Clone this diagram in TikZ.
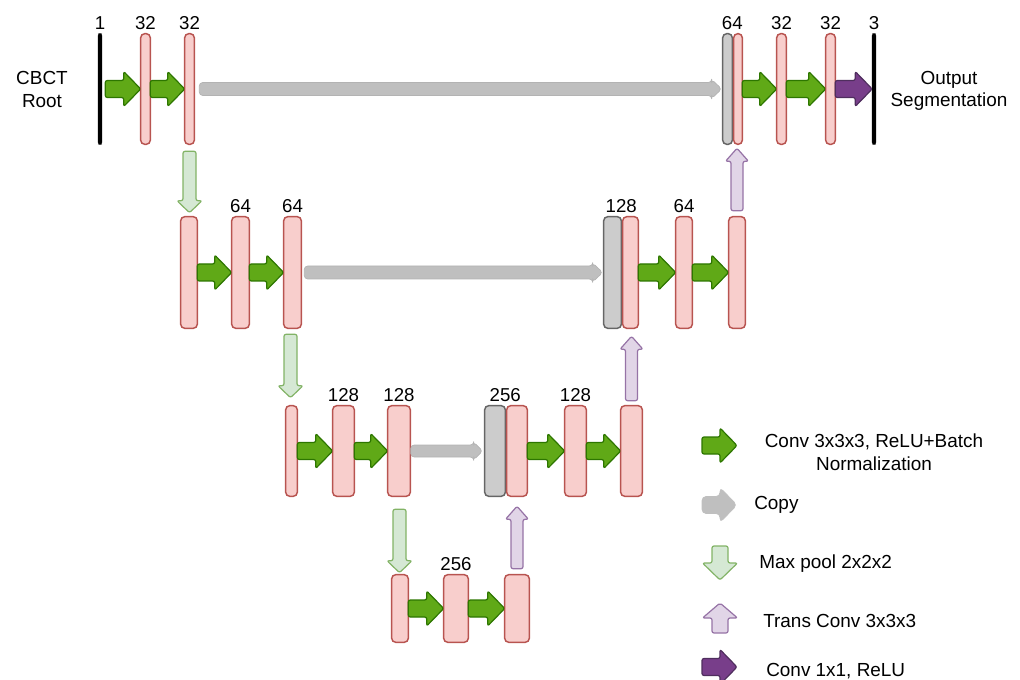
\documentclass[tikz,border=0pt]{standalone}
\usepackage{fontspec}
\setmainfont{Liberation Sans}
\usetikzlibrary{calc}
\definecolor{pinkF}{HTML}{F8CECC}
\definecolor{pinkD}{HTML}{B85450}
\definecolor{grayF}{HTML}{CCCCCC}
\definecolor{grayD}{HTML}{666666}
\definecolor{greenF}{HTML}{60A917}
\definecolor{greenD}{HTML}{2D7600}
\definecolor{poolF}{HTML}{D5E8D4}
\definecolor{poolD}{HTML}{82B366}
\definecolor{upF}{HTML}{E1D5E7}
\definecolor{upD}{HTML}{9673A6}
\definecolor{violF}{HTML}{783E8A}
\definecolor{violD}{HTML}{4F2E5E}
\definecolor{copyF}{HTML}{BFBFBF}
\definecolor{copyD}{HTML}{B3B3B3}
% bar node: name, style, x1, x2, y1, y2 (pixels, y downward)
\newcommand\mkbar[6]{\node[#2, minimum width={(#4-#3-1.4)*0.75pt}, minimum height={(#6-#5-1.4)*0.75pt}] (#1) at ({(#3+#4)/2},{(#5+#6)/2}) {};}
% horizontal block arrow: style, from, to, body half, head half, head length
\newcommand\harrow[6]{\draw[#1] ($(#2)+(0,-#4)$) -- ($(#3)+(-#6,-#4)$) -- ($(#3)+(-#6,-#5)$) -- (#3) -- ($(#3)+(-#6,#5)$) -- ($(#3)+(-#6,#4)$) -- ($(#2)+(0,#4)$) -- cycle;}
% vertical block arrow: style, from, to, body half, head half, signed head offset
\newcommand\varrow[6]{\draw[#1] ($(#2)+(-#4,0)$) -- ($(#3)+(-#4,#6)$) -- ($(#3)+(-#5,#6)$) -- (#3) -- ($(#3)+(#5,#6)$) -- ($(#3)+(#4,#6)$) -- ($(#2)+(#4,0)$) -- cycle;}
\tikzset{
  pinkbar/.style={draw=pinkD, fill=pinkF, line width=1.1pt, rounded corners=3pt, inner sep=0pt, outer sep=0pt},
  graybar/.style={draw=grayD, fill=grayF, line width=1.1pt, rounded corners=3pt, inner sep=0pt, outer sep=0pt},
  blackbar/.style={draw=black, fill=black, line width=0.5pt, rounded corners=1.6pt, inner sep=0pt, outer sep=0pt},
  convarrow/.style={draw=greenD, fill=greenF, line width=0.9pt, rounded corners=1.5pt, line join=round},
  violarrow/.style={draw=violD, fill=violF, line width=0.9pt, rounded corners=1.5pt, line join=round},
  copyarrow/.style={draw=copyD, fill=copyF, line width=0.5pt, rounded corners=2.5pt, line join=round},
  poolarrow/.style={draw=poolD, fill=poolF, line width=0.9pt, rounded corners=1.5pt, line join=round},
  transarrow/.style={draw=upD, fill=upF, line width=0.9pt, rounded corners=1.5pt, line join=round},
  lbl/.style={font=\fontsize{14}{16}\selectfont, inner sep=0pt, anchor=south, yshift=3pt},
  txt/.style={font=\fontsize{14.2}{17}\selectfont, align=center, inner sep=0pt},
}
\begin{document}
\begin{tikzpicture}[x=0.75pt, y=-0.75pt]
\useasboundingbox (0,0) rectangle (1020,680);
% ---- row 1
\mkbar{in}{blackbar}{97.5}{102.5}{33}{145}
\mkbar{b1}{pinkbar}{140}{151}{33}{145}
\mkbar{b2}{pinkbar}{184}{195}{33}{145}
\mkbar{c1}{graybar}{722}{733}{33}{145}
\mkbar{d1}{pinkbar}{733}{743}{33}{145}
\mkbar{d2}{pinkbar}{776}{787}{33}{145}
\mkbar{d3}{pinkbar}{825}{836}{33}{145}
\mkbar{out}{blackbar}{871.5}{876.5}{33}{145}
% ---- row 2
\mkbar{e1}{pinkbar}{180}{198}{216}{329}
\mkbar{e2}{pinkbar}{231}{250}{216}{329}
\mkbar{e3}{pinkbar}{283}{302}{216}{329}
\mkbar{c2}{graybar}{603}{622}{216}{329}
\mkbar{f1}{pinkbar}{622}{639}{216}{329}
\mkbar{f2}{pinkbar}{675}{693}{216}{329}
\mkbar{f3}{pinkbar}{728}{746}{216}{329}
% ---- row 3
\mkbar{g1}{pinkbar}{285}{298}{405}{497}
\mkbar{g2}{pinkbar}{332}{355}{405}{497}
\mkbar{g3}{pinkbar}{387}{411}{405}{497}
\mkbar{c3}{graybar}{484}{506}{405}{497}
\mkbar{h1}{pinkbar}{506}{528}{405}{497}
\mkbar{h2}{pinkbar}{564}{587}{405}{497}
\mkbar{h3}{pinkbar}{620}{643}{405}{497}
% ---- row 4
\mkbar{k1}{pinkbar}{391}{409}{574}{643}
\mkbar{k2}{pinkbar}{443}{469}{574}{643}
\mkbar{k3}{pinkbar}{504}{530}{574}{643}

% ---- conv arrows
\coordinate (a0) at ($(in.east)+(3.5,0)$);
\harrow{convarrow}{a0}{b1.west}{8.5}{17.5}{17}
\harrow{convarrow}{b1.east}{b2.west}{8.5}{17.5}{17}
\harrow{convarrow}{d1.east}{d2.west}{8.5}{17.5}{17}
\harrow{convarrow}{d2.east}{d3.west}{8.5}{17.5}{17}
\harrow{violarrow}{d3.east}{out.west}{8.5}{17.5}{17}
\harrow{convarrow}{e1.east}{e2.west}{8.5}{17.5}{17}
\harrow{convarrow}{e2.east}{e3.west}{8.5}{17.5}{17}
\harrow{convarrow}{f1.east}{f2.west}{8.5}{17.5}{17}
\harrow{convarrow}{f2.east}{f3.west}{8.5}{17.5}{17}
\harrow{convarrow}{g1.east}{g2.west}{8.5}{17.5}{17}
\harrow{convarrow}{g2.east}{g3.west}{8.5}{17.5}{17}
\harrow{convarrow}{h1.east}{h2.west}{8.5}{17.5}{17}
\harrow{convarrow}{h2.east}{h3.west}{8.5}{17.5}{17}
\harrow{convarrow}{k1.east}{k2.west}{8.5}{17.5}{17}
\harrow{convarrow}{k2.east}{k3.west}{8.5}{17.5}{17}

% ---- copy arrows
\coordinate (cs1) at ($(b2.east)+(5,0)$);
\coordinate (ce1) at ($(c1.west)+(-1,0)$);
\harrow{copyarrow}{cs1}{ce1}{6.5}{9.5}{10}
\coordinate (cs2) at ($(e3.east)+(3,0)$);
\coordinate (ce2) at ($(c2.west)+(-1,0)$);
\harrow{copyarrow}{cs2}{ce2}{6.5}{9.5}{10}
\coordinate (cs3) at ($(g3.east)+(0.5,0)$);
\coordinate (ce3) at ($(c3.west)+(-2,0)$);
\harrow{copyarrow}{cs3}{ce3}{6}{9}{9}

% ---- max pool arrows
\coordinate (ps1) at ($(b2.south)+(0,7)$);
\coordinate (pe1) at ($(b2.south |- e1.north)+(0,-4)$);
\varrow{poolarrow}{ps1}{pe1}{6.5}{12.5}{-12}
\coordinate (ps2) at ($(e3.south)+(-2,6)$);
\coordinate (pe2) at ($(e3.south |- g1.north)+(-2,-8)$);
\varrow{poolarrow}{ps2}{pe2}{6.5}{12.5}{-12}
\coordinate (ps3) at ($(g3.south)+(0.5,13)$);
\coordinate (pe3) at ($(g3.south |- k1.north)+(0.5,-2)$);
\varrow{poolarrow}{ps3}{pe3}{6.5}{12.5}{-12}

% ---- trans conv arrows
\coordinate (ts1) at ($(k3.north)+(0,-6)$);
\coordinate (te1) at ($(k3.north |- h1.south)+(0,10)$);
\varrow{transarrow}{ts1}{te1}{6}{11.5}{13}
\coordinate (ts2) at ($(h3.north)+(0,-5)$);
\coordinate (te2) at ($(h3.north |- f1.south)+(0,8)$);
\varrow{transarrow}{ts2}{te2}{6}{11.5}{13}
\coordinate (ts3) at ($(f3.north)+(0,-6)$);
\coordinate (te3) at ($(f3.north |- d1.south)+(0,4)$);
\varrow{transarrow}{ts3}{te3}{6}{11.5}{13}

% ---- channel labels
\node[lbl] (n1) at (in.north) {1};
\node[lbl] (n2) at (b1.north) {32};
\node[lbl] (n3) at (b2.north) {32};
\node[lbl] (n4) at (c1.north east) {64};
\node[lbl] (n5) at (d2.north) {32};
\node[lbl] (n6) at (d3.north) {32};
\node[lbl] (n7) at (out.north) {3};
\node[lbl] (n8) at (e2.north) {64};
\node[lbl] (n9) at (e3.north) {64};
\node[lbl] (n10) at (c2.north east) {128};
\node[lbl] (n11) at (f2.north) {64};
\node[lbl] (n12) at (g2.north) {128};
\node[lbl] (n13) at (g3.north) {128};
\node[lbl] (n14) at (c3.north east) {256};
\node[lbl] (n15) at (h2.north) {128};
\node[lbl] (n16) at (k2.north) {256};

% ---- side texts
\node[txt, font=\fontsize{14.2}{17}\selectfont] (tin) at (42,89.5) {CBCT\\Root};
\node[txt, font=\fontsize{14.2}{17}\selectfont] (tout) at (949,91) {Output\\Segmentation};

% ---- legend
\coordinate (lg1s) at (702,445.5); \coordinate (lg1e) at (737,445.5);
\harrow{convarrow}{lg1s}{lg1e}{8.5}{17.5}{17}
\node[txt] (lg1t) at (874,452) {Conv 3x3x3, ReLU+Batch\\Normalization};
\coordinate (lg2s) at (702,505); \coordinate (lg2e) at (737,505);
\harrow{copyarrow, draw=copyF, rounded corners=3pt}{lg2s}{lg2e}{8.5}{17.5}{17}
\node[txt, anchor=base west] (lg2t) at (754,509) {Copy};
\coordinate (lg3s) at (720,546); \coordinate (lg3e) at (720,580);
\varrow{poolarrow}{lg3s}{lg3e}{8}{17.5}{-17}
\node[txt, anchor=base west] (lg3t) at (759,568) {Max pool 2x2x2};
\coordinate (lg4s) at (720,633); \coordinate (lg4e) at (720,603);
\varrow{transarrow}{lg4s}{lg4e}{8}{17.5}{15}
\node[txt, anchor=base west] (lg4t) at (763,627) {Trans Conv 3x3x3};
\coordinate (lg5s) at (702,667); \coordinate (lg5e) at (737,667);
\harrow{violarrow}{lg5s}{lg5e}{8.5}{17.5}{17}
\node[txt, anchor=base west] (lg5t) at (766,676) {Conv 1x1, ReLU};
\end{tikzpicture}
\end{document}
